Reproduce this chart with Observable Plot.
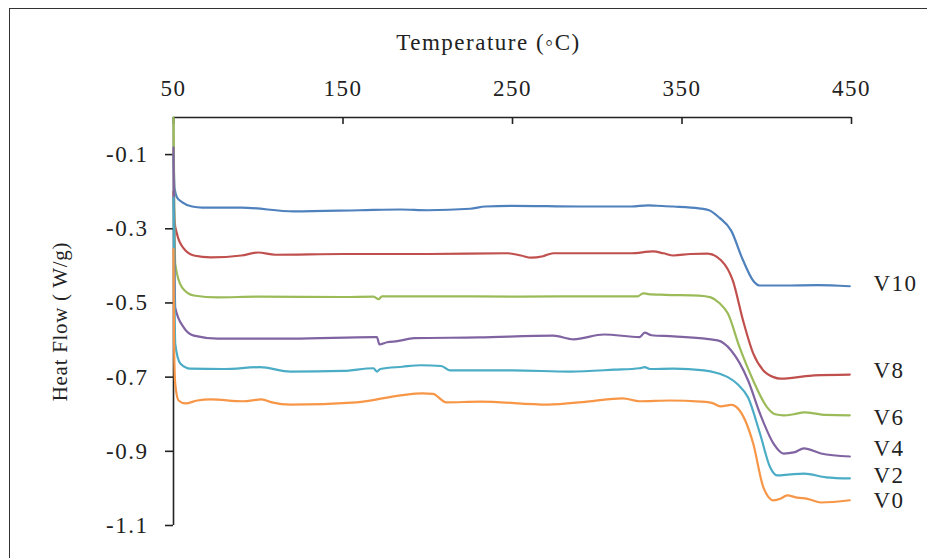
<!DOCTYPE html>
<html>
<head>
<meta charset="utf-8">
<script src="https://cdn.jsdelivr.net/npm/d3@7"></script>
<script src="https://cdn.jsdelivr.net/npm/@observablehq/plot@0.6"></script>
<style>
  html, body { margin: 0; padding: 0; background: #fff; overflow: hidden; width: 927px; height: 558px; }
  #frame { position: absolute; left: 9px; top: 8px; width: 960px; height: 600px;
           border-left: 1.5px solid #333; border-top: 1.5px solid #333; }
  #chart { position: absolute; left: 0; top: 0; }
</style>
</head>
<body>
<div id="frame"></div>
<div id="chart"></div>
<script>
// ---- data ----
const seriesNames = ["V10", "V8", "V6", "V4", "V2", "V0"];
const seriesColors = ["#4F81BD", "#C0504D", "#9BBB59", "#8064A2", "#4BACC6", "#F79646"];

const v10T = [50, 50.6, 52, 55, 61, 67, 90, 121, 160, 184, 200, 225, 234, 250, 290, 320, 330, 335, 345, 360, 366, 372, 379, 386, 392, 396, 410, 430, 449];
const v10H = [-0.10, -0.19, -0.215, -0.228, -0.240, -0.243, -0.243, -0.253, -0.250, -0.248, -0.250, -0.246, -0.240, -0.238, -0.240, -0.240, -0.237, -0.238, -0.240, -0.245, -0.250, -0.270, -0.305, -0.385, -0.440, -0.453, -0.453, -0.452, -0.455];

const v8T = [50, 50.6, 52, 56, 62, 72, 90, 100, 110, 150, 200, 247, 255, 261, 268, 274, 300, 320, 333, 339, 345, 355, 365, 373, 380, 386, 392, 398, 404, 408, 415, 428, 449];
const v8H = [-0.20, -0.28, -0.313, -0.353, -0.372, -0.377, -0.372, -0.364, -0.370, -0.368, -0.368, -0.366, -0.372, -0.378, -0.374, -0.366, -0.366, -0.366, -0.361, -0.366, -0.372, -0.368, -0.367, -0.385, -0.440, -0.547, -0.636, -0.682, -0.700, -0.704, -0.702, -0.695, -0.693];

const v6T = [50, 50.5, 51, 55, 62, 76, 100, 150, 168, 171, 173, 200, 255, 300, 324, 327, 330, 340, 360, 367, 372, 377, 384, 392, 400, 405, 410, 416, 422, 435, 449];
const v6H = [0, -0.25, -0.394, -0.458, -0.480, -0.485, -0.483, -0.484, -0.483, -0.490, -0.482, -0.482, -0.483, -0.482, -0.482, -0.474, -0.476, -0.478, -0.480, -0.485, -0.500, -0.528, -0.620, -0.709, -0.780, -0.800, -0.803, -0.800, -0.795, -0.802, -0.803];

const v4T = [50, 50.5, 51, 56, 62, 76, 120, 168, 170, 171.5, 176, 182, 192, 230, 274, 286, 304, 325, 328, 332, 345, 371, 379, 389, 396, 404, 410, 416, 422, 432, 449];
const v4H = [-0.081, -0.35, -0.512, -0.566, -0.588, -0.596, -0.596, -0.592, -0.592, -0.612, -0.606, -0.603, -0.595, -0.593, -0.588, -0.598, -0.585, -0.592, -0.580, -0.587, -0.590, -0.601, -0.628, -0.709, -0.798, -0.879, -0.906, -0.903, -0.892, -0.906, -0.914];

const v2T = [50, 50.5, 51, 54, 60, 80, 101, 119, 150, 168, 170, 172, 185, 196, 208, 213, 250, 284, 310, 325, 328, 331, 345, 363, 370, 377, 383, 389, 396, 402, 406, 414, 422, 435, 449];
const v2H = [-0.216, -0.45, -0.609, -0.663, -0.677, -0.678, -0.673, -0.685, -0.683, -0.676, -0.685, -0.678, -0.672, -0.668, -0.670, -0.682, -0.682, -0.685, -0.680, -0.676, -0.673, -0.678, -0.677, -0.682, -0.688, -0.700, -0.720, -0.755, -0.852, -0.943, -0.965, -0.962, -0.960, -0.970, -0.973];

const v0T = [50, 50.3, 51, 53, 57, 64, 72, 91, 102, 108, 119, 158, 184, 197, 203, 211, 231, 271, 294, 315, 325, 343, 361, 368, 373, 379, 384, 392, 398, 404, 408, 412, 418, 424, 432, 449];
const v0H = [-0.355, -0.60, -0.717, -0.763, -0.771, -0.763, -0.760, -0.765, -0.760, -0.768, -0.774, -0.768, -0.749, -0.744, -0.745, -0.768, -0.766, -0.774, -0.766, -0.757, -0.765, -0.763, -0.766, -0.770, -0.779, -0.775, -0.790, -0.879, -0.997, -1.032, -1.028, -1.019, -1.025, -1.028, -1.038, -1.032];

const labelY = [-0.447, -0.682, -0.809, -0.892, -0.965, -1.032];

const xTicks = [50, 150, 250, 350, 450];
const yTicks = [-0.1, -0.3, -0.5, -0.7, -0.9, -1.1];
const xDomain = [50, 450];
const yDomain = [-1.1, 0];

const titleX = "Temperature (\u25E6C)";
const titleY = "Heat Flow ( W/g)";

// ---- build table ----
const seriesT = [v10T, v8T, v6T, v4T, v2T, v0T];
const seriesH = [v10H, v8H, v6H, v4H, v2H, v0H];
const rows = [];
seriesNames.forEach((name, s) => {
  seriesT[s].forEach((t, i) => rows.push({series: name, t, h: seriesH[s][i]}));
});
const labels = seriesNames.map((name, i) => ({name, x: xDomain[1], y: labelY[i]}));

const ink = "#222";
const chart = Plot.plot({
  width: 927,
  height: 558,
  marginTop: 117,
  marginBottom: 33,
  marginLeft: 173,
  marginRight: 76,
  style: {fontFamily: "'Liberation Serif', 'Times New Roman', serif", fontSize: "23px", letterSpacing: "1.5px", color: ink, background: "transparent"},
  x: {domain: xDomain},
  y: {domain: yDomain},
  color: {domain: seriesNames, range: seriesColors},
  marks: [
    // axis lines
    Plot.ruleX([xDomain[0]], {y1: yDomain[0], y2: yDomain[1], stroke: ink, strokeWidth: 1.6}),
    Plot.ruleY([yDomain[1]], {x1: xDomain[0], x2: xDomain[1], stroke: ink, strokeWidth: 1.6}),
    // inward x ticks on the top axis
    Plot.ruleX(xTicks, {y1: yDomain[1], y2: yDomain[1], insetBottom: -7, stroke: ink, strokeWidth: 1.6}),
    // x tick labels (top)
    Plot.axisX(xTicks, {anchor: "top", tickSize: 0, tickPadding: 22, label: null, fontSize: 23}),
    // y axis ticks + labels
    Plot.axisY(yTicks, {anchor: "left", tickSize: 8, tickPadding: 17, strokeWidth: 1.6, tickFormat: d => d.toFixed(1), label: null, fontSize: 23}),
    // titles
    Plot.text([titleX], {frameAnchor: "top", textAnchor: "middle", lineAnchor: "middle", dx: -24, dy: -75, fontSize: 23, fill: ink}),
    Plot.text([titleY], {frameAnchor: "left", textAnchor: "middle", lineAnchor: "middle", rotate: -90, dx: -113, fontSize: 21, fill: ink}),
    // series
    Plot.line(rows, {x: "t", y: "h", z: "series", stroke: "series", strokeWidth: 2.2, curve: "monotone-x"}),
    // series labels
    Plot.text(labels, {x: "x", y: "y", text: "name", dx: 22, textAnchor: "start", fontSize: 23, fill: ink})
  ]
});
// tighter letter spacing for the vertical axis title
d3.select(chart).selectAll("text").filter(function() { return this.textContent === titleY; })
  .style("letter-spacing", "0.7px");
document.getElementById("chart").appendChild(chart);
</script>
</body>
</html>
